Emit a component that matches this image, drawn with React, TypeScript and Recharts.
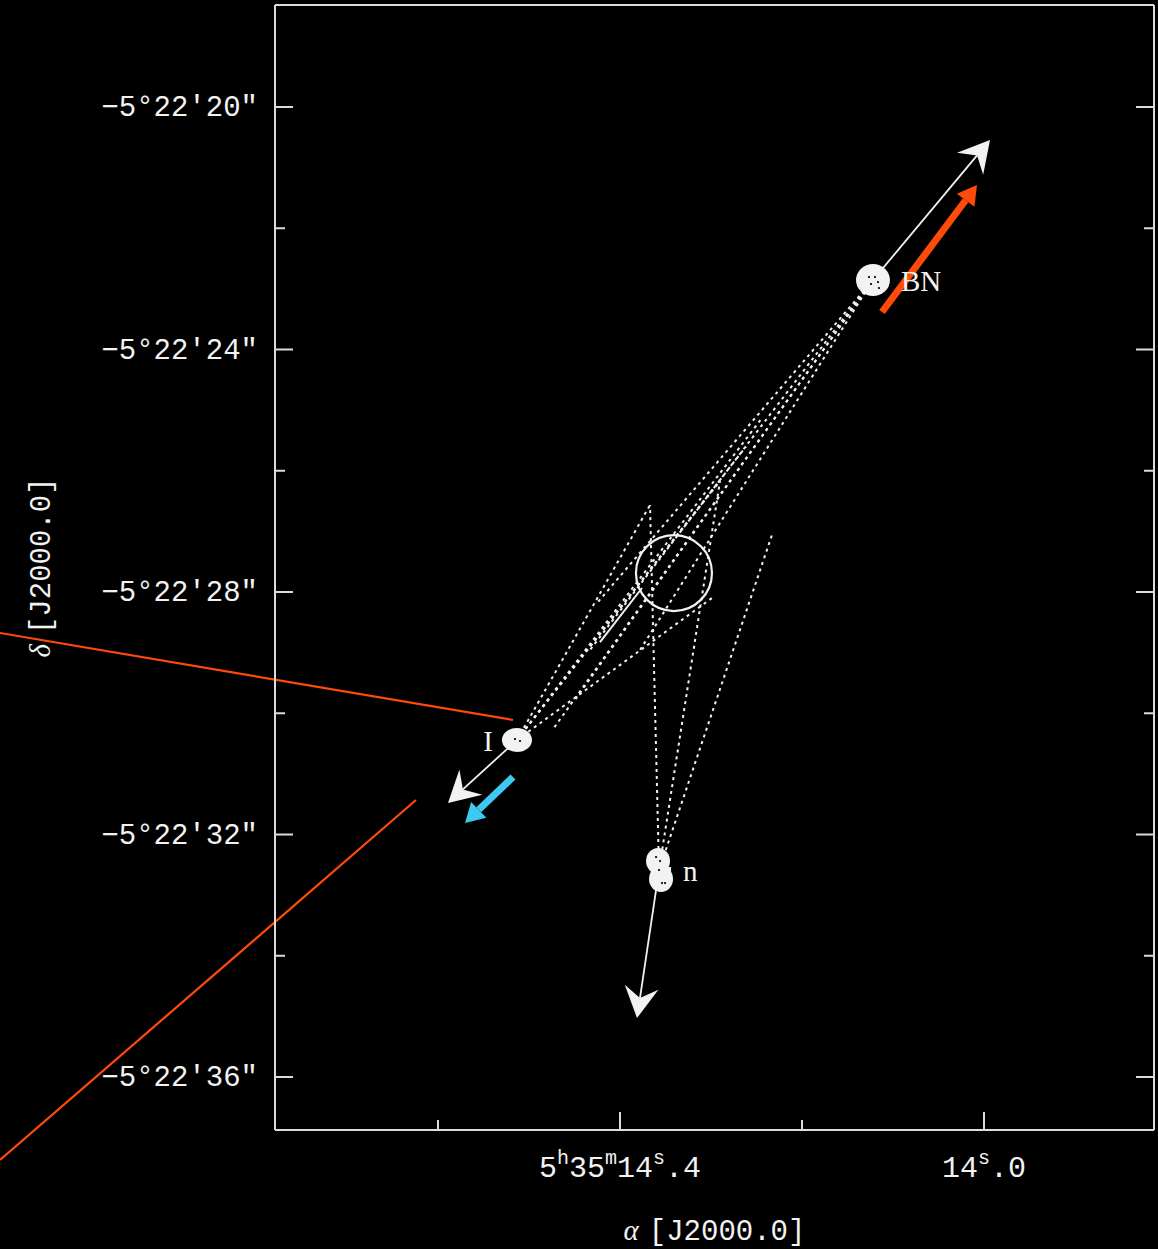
import { ScatterChart, Scatter, XAxis, YAxis, ReferenceLine, ReferenceDot } from 'recharts';

// Axes: RA in seconds past 5h35m, Dec in arcsec past -5°22'
const RA_DOMAIN: [number, number] = [13.8132, 14.7791];
const DEC_DOMAIN: [number, number] = [18.3175, 36.874];

const raTicks = [14.6, 14.4, 14.2, 14.0];
const raMajor = [14.4, 14.0];
const raShowHM = [true, false];
const decTicks = [20, 22, 24, 26, 28, 30, 32, 34, 36];
const decMajor = [20, 24, 28, 32, 36];

// sources and their proper-motion vectors
const sourceNames = ['BN', 'I', 'n'];
const sourceRA = [14.122, 14.5132, 14.3571];
const sourceDec = [22.854, 30.441, 32.586];
const motionTipRA = [13.9934, 14.589, 14.3813];
const motionTipDec = [20.544, 31.48, 35.027];

// common origin region
const originRA = 14.3407;
const originDec = 27.687;

// back-extrapolated trajectory cones (end points; each starts at its source)
const bnConeRA = [14.4242, 14.433, 14.378, 14.4495, 14.4725];
const bnConeDec = [28.165, 28.957, 28.957, 29.781, 30.24];
const iConeRA = [14.367, 14.2901, 14.244, 14.2989, 14.2615];
const iConeDec = [26.565, 26.169, 25.13, 28.099, 25.6];
const nConeRA = [14.367, 14.2901, 14.2319];
const nConeDec = [26.565, 26.169, 27.01];

const trackRA = [14.422, 14.3758];
const trackDec = [28.825, 27.934];

// overlay pointers
const pointerRA = [[15.0813, 14.5176], [14.6242, 15.0813]];
const pointerDec = [[28.676, 30.111], [31.431, 37.369]];
const bnFlowRA = [14.1121, 14.0077];
const bnFlowDec = [23.381, 21.287];
const iFlowRA = [14.5176, 14.5703];
const iFlowDec = [31.052, 31.81];

const FG = '#f2f2f2';
const FRAME = '#dcdcdc';
const ORANGE = '#ff4a0a';
const CYAN = '#3ec9f2';
const MONO = "'Liberation Mono', 'DejaVu Sans Mono', monospace";
const SERIF = "'Liberation Serif', 'DejaVu Serif', serif";

function head(x1: number, y1: number, x2: number, y2: number, len: number, half: number, notch: number) {
  const d = Math.hypot(x2 - x1, y2 - y1) || 1;
  const ux = (x2 - x1) / d;
  const uy = (y2 - y1) / d;
  const bx = x2 - ux * len;
  const by = y2 - uy * len;
  const nx = x2 - ux * len * (1 - notch);
  const ny = y2 - uy * len * (1 - notch);
  return {
    pts: `${x2},${y2} ${bx - uy * half},${by + ux * half} ${nx},${ny} ${bx + uy * half},${by - ux * half}`,
    nx,
    ny,
  };
}

const MotionArrow = (p: any) => {
  const h = head(p.x1, p.y1, p.x2, p.y2, 31, 17, 0.35);
  return (
    <g>
      <line x1={p.x1} y1={p.y1} x2={h.nx} y2={h.ny} stroke={FG} strokeWidth={1.8} />
      <polygon points={h.pts} fill={FG} />
    </g>
  );
};

const FlowArrow = (color: string) => (p: any) => {
  const h = head(p.x1, p.y1, p.x2, p.y2, 19, 11, 0);
  return (
    <g>
      <line x1={p.x1} y1={p.y1} x2={h.nx} y2={h.ny} stroke={color} strokeWidth={7} />
      <polygon points={h.pts} fill={color} />
    </g>
  );
};

const SourceMark = (p: any) => {
  const { cx, cy, payload } = p;
  const name = payload.name;
  if (name === 'BN') {
    return (
      <g>
        <ellipse cx={cx} cy={cy} rx={17} ry={16} fill={FG} />
        {[[-5, -4], [1, -4], [-3, 3], [4, 1], [5, 7]].map(([dx, dy], k) => (
          <rect key={k} x={cx + dx} y={cy + dy} width={2} height={2} fill="#222" />
        ))}
        <text x={cx + 28} y={cy + 11} fill={FG} fontSize={29} fontFamily={SERIF}>BN</text>
      </g>
    );
  }
  if (name === 'I') {
    return (
      <g>
        <ellipse cx={cx} cy={cy} rx={15} ry={12} fill={FG} />
        <rect x={cx - 3} y={cy - 2} width={2} height={2} fill="#222" />
        <rect x={cx + 2} y={cy} width={2} height={2} fill="#222" />
        <text x={cx - 24} y={cy + 11} textAnchor="end" fill={FG} fontSize={29} fontFamily={SERIF}>I</text>
      </g>
    );
  }
  return (
    <g>
      <ellipse cx={cx - 1} cy={cy - 9} rx={12} ry={13} fill={FG} />
      <ellipse cx={cx + 2} cy={cy + 9} rx={12} ry={13} fill={FG} />
      <rect x={cx - 8} y={cy - 3} width={20} height={6} fill={FG} />
      {[[-4, -14], [0, -10], [-1, -1], [2, 12], [5, 12]].map(([dx, dy], k) => (
        <rect key={k} x={cx + dx} y={cy + dy} width={2} height={2} fill="#222" />
      ))}
      <text x={cx + 24} y={cy + 11} fill={FG} fontSize={29} fontFamily={SERIF}>n</text>
    </g>
  );
};

const RaTick = (p: any) => {
  const { x, y, payload } = p;
  const idx = raMajor.indexOf(payload.value);
  const major = idx >= 0;
  const secs = Math.floor(payload.value + 1e-9);
  const frac = Math.round((payload.value - secs) * 10);
  return (
    <g>
      <line x1={x} x2={x} y1={y} y2={y - (major ? 18 : 10)} stroke={FRAME} strokeWidth={2} />
      {major && (
        <text x={x} y={y + 47} textAnchor="middle" fill={FG} fontSize={30} fontFamily={MONO}>
          {raShowHM[idx] && (
            <>
              <tspan>5</tspan>
              <tspan dy={-13} fontSize={20}>h</tspan>
              <tspan dy={13}>35</tspan>
              <tspan dy={-13} fontSize={20}>m</tspan>
              <tspan dy={13}>{secs}</tspan>
            </>
          )}
          {!raShowHM[idx] && <tspan>{secs}</tspan>}
          <tspan dy={-13} fontSize={20}>s</tspan>
          <tspan dy={13}>.{frac}</tspan>
        </text>
      )}
    </g>
  );
};

const DecTick = (p: any) => {
  const { x, y, payload, side } = p;
  const v = payload.value;
  const major = decMajor.includes(v);
  const dir = side === 'left' ? 1 : -1;
  return (
    <g>
      <line x1={x} x2={x + dir * (major ? 18 : 10)} y1={y} y2={y} stroke={FRAME} strokeWidth={2} />
      {side === 'left' && major && (
        <text x={x - 17} y={y} dy={9} textAnchor="end" fill={FG} fontSize={29} fontFamily={MONO}>
          {`−5°22′${v}″`}
        </text>
      )}
    </g>
  );
};

const seg = (ra: number[], dec: number[]) => [
  { x: ra[0], y: dec[0] },
  { x: ra[1], y: dec[1] },
];

export default function App() {
  const sources = sourceNames.map((name, i) => ({ name, ra: sourceRA[i], dec: sourceDec[i] }));
  const [bn, iSrc, nSrc] = [0, 1, 2].map((i) => ({ x: sourceRA[i], y: sourceDec[i] }));
  const dotted = { stroke: FG, strokeWidth: 2, strokeDasharray: '3 4' };

  return (
    <div style={{ position: 'absolute', left: 0, top: 0, width: 1158, height: 1249, background: '#000', overflow: 'hidden' }}>
      <ScatterChart width={1158} height={1249} margin={{ top: 5, right: 0, bottom: 0, left: 0 }}>
        <XAxis
          xAxisId="ra"
          dataKey="ra"
          type="number"
          domain={RA_DOMAIN}
          reversed
          allowDataOverflow
          ticks={raTicks}
          interval={0}
          tickLine={false}
          tickSize={0}
          tickMargin={0}
          tick={<RaTick />}
          height={119}
          axisLine={{ stroke: FRAME, strokeWidth: 2 }}
          label={{
            content: (lp: any) => {
              const vb = lp.viewBox || { x: 275, y: 1130, width: 879 };
              return (
                <text x={vb.x + vb.width / 2} y={vb.y + 110} textAnchor="middle" fill={FG} fontSize={29} fontFamily={MONO}>
                  <tspan fontFamily={SERIF} fontStyle="italic">α</tspan>
                  <tspan dx={10}>[J2000.0]</tspan>
                </text>
              );
            },
          }}
        />
        <YAxis
          yAxisId="dec"
          dataKey="dec"
          type="number"
          domain={DEC_DOMAIN}
          reversed
          allowDataOverflow
          ticks={decTicks}
          interval={0}
          tickLine={false}
          tickSize={0}
          tickMargin={0}
          tick={<DecTick side="left" />}
          width={275}
          axisLine={{ stroke: FRAME, strokeWidth: 2 }}
          label={{
            content: (lp: any) => {
              const vb = lp.viewBox || { x: 0, y: 5, height: 1125 };
              const cy = vb.y + vb.height / 2;
              return (
                <text x={40} y={cy} transform={`rotate(-90 40 ${cy})`} dy={10} textAnchor="middle" fill={FG} fontSize={29} fontFamily={MONO}>
                  <tspan fontFamily={SERIF} fontStyle="italic">δ</tspan>
                  <tspan dx={10}>[J2000.0]</tspan>
                </text>
              );
            },
          }}
        />
        <YAxis
          yAxisId="decRight"
          orientation="right"
          type="number"
          domain={DEC_DOMAIN}
          reversed
          allowDataOverflow
          ticks={decTicks}
          interval={0}
          tickLine={false}
          tickSize={0}
          tickMargin={0}
          tick={<DecTick side="right" />}
          width={4}
          axisLine={{ stroke: FRAME, strokeWidth: 2 }}
        />

        {/* top edge of the frame */}
        <ReferenceLine xAxisId="ra" yAxisId="dec" y={DEC_DOMAIN[0]} stroke={FRAME} strokeWidth={2} />

        {/* trajectory cones */}
        {bnConeRA.map((ra, k) => (
          <ReferenceLine key={`bn${k}`} xAxisId="ra" yAxisId="dec" segment={[bn, { x: ra, y: bnConeDec[k] }]} {...dotted} />
        ))}
        {iConeRA.map((ra, k) => (
          <ReferenceLine key={`i${k}`} xAxisId="ra" yAxisId="dec" segment={[iSrc, { x: ra, y: iConeDec[k] }]} {...dotted} />
        ))}
        {nConeRA.map((ra, k) => (
          <ReferenceLine key={`n${k}`} xAxisId="ra" yAxisId="dec" segment={[nSrc, { x: ra, y: nConeDec[k] }]} {...dotted} />
        ))}
        <ReferenceLine xAxisId="ra" yAxisId="dec" segment={seg(trackRA, trackDec)} stroke={FG} strokeWidth={2} />

        <ReferenceDot xAxisId="ra" yAxisId="dec" x={originRA} y={originDec} r={38} fill="none" stroke={FG} strokeWidth={2.2} />

        {/* proper motions */}
        {sourceNames.map((name, i) => (
          <ReferenceLine
            key={`pm${name}`}
            xAxisId="ra"
            yAxisId="dec"
            segment={[{ x: sourceRA[i], y: sourceDec[i] }, { x: motionTipRA[i], y: motionTipDec[i] }]}
            shape={MotionArrow}
          />
        ))}

        {/* overlay pointers */}
        {pointerRA.map((ra, k) => (
          <ReferenceLine key={`p${k}`} xAxisId="ra" yAxisId="dec" ifOverflow="visible" segment={seg(ra, pointerDec[k])} stroke={ORANGE} strokeWidth={2.2} />
        ))}
        <ReferenceLine xAxisId="ra" yAxisId="dec" ifOverflow="visible" segment={seg(bnFlowRA, bnFlowDec)} shape={FlowArrow(ORANGE)} />
        <ReferenceLine xAxisId="ra" yAxisId="dec" ifOverflow="visible" segment={seg(iFlowRA, iFlowDec)} shape={FlowArrow(CYAN)} />

        <Scatter xAxisId="ra" yAxisId="dec" data={sources} dataKey="dec" shape={SourceMark} isAnimationActive={false} />
      </ScatterChart>
    </div>
  );
}
